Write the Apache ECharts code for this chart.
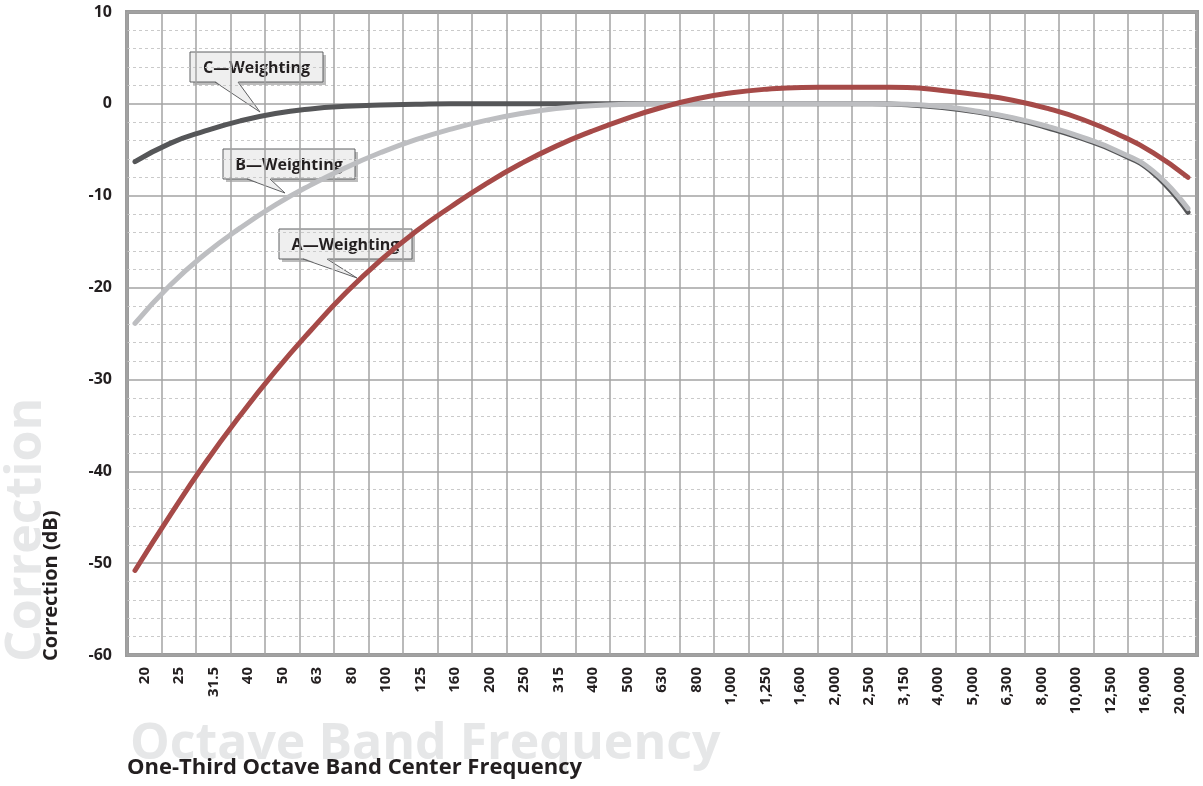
<!DOCTYPE html>
<html>
<head>
<meta charset="utf-8">
<script src="https://cdn.jsdelivr.net/npm/echarts@6/dist/echarts.min.js"></script>
<style>
html,body{margin:0;padding:0;background:#fff;}
#chart{width:1203px;height:786px;}
</style>
</head>
<body>
<div id="chart"></div>
<script>
// Data
var freqLabels = ['20','25','31.5','40','50','63','80','100','125','160','200','250','315','400','500','630','800','1,000','1,250','1,600','2,000','2,500','3,150','4,000','5,000','6,300','8,000','10,000','12,500','16,000','20,000'];
var aWeighting = [-50.8,-44.8,-39.1,-33.9,-29.1,-24.7,-20.6,-17.0,-13.9,-11.2,-8.7,-6.5,-4.6,-3.0,-1.6,-0.4,0.55,1.2,1.6,1.78,1.8,1.8,1.78,1.45,1.0,0.4,-0.5,-1.7,-3.3,-5.3,-8.0];
var bWeighting = [-23.9,-19.75,-16.35,-13.5,-11.0,-8.85,-6.95,-5.3,-3.9,-2.75,-1.8,-1.05,-0.5,-0.2,-0.05,0,0,0,0,0,0,0,-0.05,-0.3,-0.8,-1.5,-2.45,-3.65,-5.15,-7.3,-11.4];
var cWeighting = [-6.3,-4.3,-2.95,-1.85,-1.05,-0.55,-0.27,-0.12,-0.05,0,0,0,0,0,0,0,0,0,0,0,0,0,-0.1,-0.4,-0.9,-1.6,-2.6,-3.8,-5.3,-7.5,-11.8];
var yMin = -60, yMax = 10, yStep = 10;
var seriesNames = ['C—Weighting','B—Weighting','A—Weighting'];

var FONT = '"Open Sans", "Noto Sans", sans-serif';
var chart = echarts.init(document.getElementById('chart'), null, {renderer:'canvas'});

function callout(label, bx, by, bw, bh, p1, p2, tip) {
  return {
    type: 'group', z: 100,
    children: [
      {type:'rect', shape:{x:bx+3,y:by+3,width:bw,height:bh}, style:{fill:'#bdbdbd'}},
      {type:'rect', shape:{x:bx,y:by,width:bw,height:bh}, style:{fill:'#efefef', stroke:'#5f6062', lineWidth:1}},
      {type:'polygon', shape:{points:[[p1,by+bh-1],[p2,by+bh-1],tip]}, style:{fill:'#efefef'}},
      {type:'polyline', shape:{points:[[p1,by+bh],tip,[p2,by+bh]]}, style:{stroke:'#5f6062', lineWidth:1, fill:null}},
      {type:'text', x: bx+bw/2, y: by+bh/2+1, style:{text:label, font:'bold 16px ' + FONT, fill:'#231f20', align:'center', verticalAlign:'middle'}}
    ]
  };
}

var option = {
  animation: false,
  backgroundColor: '#ffffff',
  grid: [
    {left:127, right:6, top:12, bottom:131, show:true, borderColor:'#9b9b9b', borderWidth:4, backgroundColor:'#ffffff', z:0},
    {left:135, right:15, top:12, bottom:131, show:false}
  ],
  xAxis: [
    {type:'category', gridIndex:0, data:freqLabels, boundaryGap:true,
     axisLine:{show:false}, axisTick:{show:false},
     axisLabel:{rotate:90, margin:12, fontSize:15, fontWeight:'bold', color:'#231f20', fontFamily:FONT, interval:0},
     splitLine:{show:true, interval:0, lineStyle:{color:'#a3a3a3', width:1.5}}},
    {type:'category', gridIndex:1, data:freqLabels, boundaryGap:false, show:false}
  ],
  yAxis: [
    {type:'value', gridIndex:0, min:yMin, max:yMax, interval:yStep,
     axisLine:{show:false}, axisTick:{show:false},
     axisLabel:{margin:15, fontSize:16, fontWeight:'bold', color:'#231f20', fontFamily:FONT},
     splitLine:{show:true, lineStyle:{color:'#a3a3a3', width:1.5}},
     minorTick:{show:false, splitNumber:5},
     minorSplitLine:{show:true, lineStyle:{color:'#cacaca', width:1, type:[3,3]}}},
    {type:'value', gridIndex:1, min:yMin, max:yMax, interval:yStep, show:false, splitLine:{show:false}}
  ],
  series: [
    {name:seriesNames[0], type:'line', xAxisIndex:1, yAxisIndex:1, data:cWeighting, smooth:0.5, symbol:'none',
     lineStyle:{color:'#555658', width:5, cap:'round'}, z:3},
    {name:seriesNames[1], type:'line', xAxisIndex:1, yAxisIndex:1, data:bWeighting, smooth:0.5, symbol:'none',
     lineStyle:{color:'#bdbec1', width:5, cap:'round'}, z:4},
    {name:seriesNames[2], type:'line', xAxisIndex:1, yAxisIndex:1, data:aWeighting, smooth:0.5, symbol:'none',
     lineStyle:{color:'#a64a48', width:5, cap:'round'}, z:5}
  ],
  graphic: [
    {type:'text', z:-1, x:130, y:770, style:{text:'Octave Band Frequency', font:'bold 50px ' + FONT, fill:'#e6e7e8', align:'left', verticalAlign:'bottom'}},
    {type:'text', z:-1, x:52, y:662, rotation:Math.PI/2, style:{text:'Correction', font:'bold 50px ' + FONT, fill:'#e6e7e8', align:'left', verticalAlign:'bottom'}},
    {type:'text', z:50, x:127, y:768, style:{text:'One-Third Octave Band Center Frequency', font:'bold 22px ' + FONT, fill:'#231f20', align:'left', verticalAlign:'middle'}},
    {type:'text', z:50, x:61, y:661, rotation:Math.PI/2, style:{text:'Correction (dB)', font:'bold 20px ' + FONT, fill:'#231f20', align:'left', verticalAlign:'bottom'}},
    callout(seriesNames[0], 190, 52, 133, 30, 215, 238, [260, 112]),
    callout(seriesNames[1], 223, 149, 132, 30, 247, 270, [285, 193]),
    callout(seriesNames[2], 279, 229, 133, 30, 303, 327, [357, 278])
  ]
};
chart.setOption(option);
</script>
</body>
</html>
